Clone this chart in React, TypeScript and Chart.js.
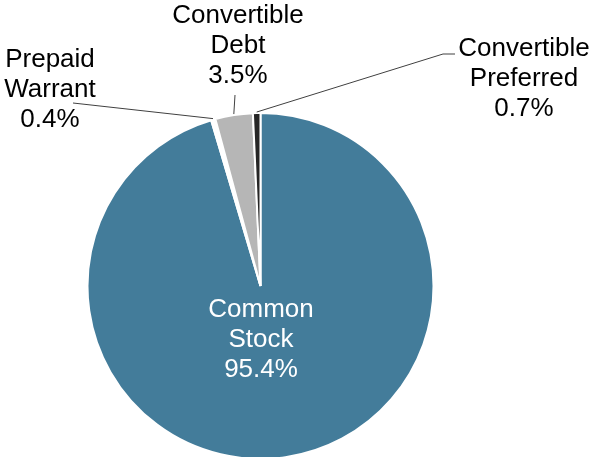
import React, { useEffect, useRef } from "react";
import { Chart, registerables } from "chart.js";

Chart.register(...registerables);

const categories = ["Common Stock", "Prepaid Warrant", "Convertible Debt", "Convertible Preferred"];
const shares = [95.4, 0.4, 3.5, 0.7];
const sliceColors = ["#437C9A", "#FFFFFF", "#B6B6B6", "#262626"];
const labelLines = [
  ["Common", "Stock", "95.4%"],
  ["Prepaid", "Warrant", "0.4%"],
  ["Convertible", "Debt", "3.5%"],
  ["Convertible", "Preferred", "0.7%"],
];

// layout for labels (center x, first baseline y, text colour, leader path points)
const labelLayout = [
  { x: 261, y: 317, color: "#FFFFFF", leader: null as null | number[][] },
  { x: 50, y: 67, color: "#000000", leader: [[73, 103]] },
  { x: 238, y: 23, color: "#000000", leader: [[235, 95]] },
  { x: 524, y: 56, color: "#000000", leader: [[443, 54], [455, 54]] },
];
const LINE_H = 30;

const labelPlugin = {
  id: "pieLabels",
  afterDatasetsDraw(chart: any) {
    const ctx = chart.ctx;
    const meta = chart.getDatasetMeta(0);
    ctx.save();
    meta.data.forEach((arc: any, i: number) => {
      const lay = labelLayout[i];
      const { x, y, startAngle, endAngle, outerRadius } = arc.getProps(
        ["x", "y", "startAngle", "endAngle", "outerRadius"],
        true
      );
      if (lay.leader) {
        const mid = (startAngle + endAngle) / 2;
        const sx = x + Math.cos(mid) * (outerRadius + 1);
        const sy = y + Math.sin(mid) * (outerRadius + 1);
        ctx.beginPath();
        ctx.strokeStyle = "#404040";
        ctx.lineWidth = 1;
        ctx.moveTo(sx, sy);
        lay.leader.forEach((p) => ctx.lineTo(p[0], p[1]));
        ctx.stroke();
      }
      ctx.fillStyle = lay.color;
      ctx.font = "26px 'Liberation Sans', Arial, sans-serif";
      ctx.textAlign = "center";
      ctx.textBaseline = "alphabetic";
      labelLines[i].forEach((t, k) => {
        ctx.fillText(t, lay.x, lay.y + k * LINE_H);
      });
    });
    ctx.restore();
  },
};

export default function App() {
  const ref = useRef<HTMLCanvasElement>(null);
  useEffect(() => {
    const chart = new Chart(ref.current!, {
      type: "pie",
      data: {
        labels: categories,
        datasets: [
          {
            data: shares,
            backgroundColor: sliceColors,
            borderColor: "#FFFFFF",
            borderWidth: 2,
          },
        ],
      },
      options: {
        animation: false,
        responsive: false,
        radius: 173,
        layout: { padding: { top: 115, bottom: 0, left: 88, right: 160 } },
        plugins: {
          legend: { display: false },
          tooltip: { enabled: false },
        },
      },
      plugins: [labelPlugin],
    });
    return () => chart.destroy();
  }, []);
  return (
    <div style={{ position: "absolute", left: 0, top: 0, width: 593, height: 457, background: "#fff" }}>
      <canvas ref={ref} width={593} height={457} />
    </div>
  );
}
